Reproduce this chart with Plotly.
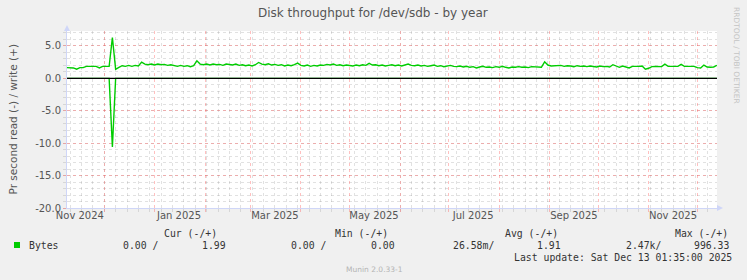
import pandas as pd
import plotly.graph_objects as go

# ---------------- data ----------------
start_date = "2024-11-08 01:35"
end_date = "2025-12-13 01:35"
dates = pd.date_range("2024-11-08", "2025-12-13", freq="2D")

write_vals = [
    1.65, 1.65, 1.6, 1.4, 1.65, 1.65, 1.85, 1.85, 1.85, 1.85,
    1.6, 1.85, 1.85, 1.85, 6.3, 1.4, 1.7, 1.95, 1.85, 2.0,
    1.85, 2.0, 1.9, 2.5, 2.2, 2.1, 2.2, 2.05, 2.2, 2.1,
    2.15, 2.0, 2.1, 1.95, 1.85, 2.0, 1.85, 1.95, 1.8, 1.95,
    2.7, 2.2, 2.1, 2.2, 2.05, 2.2, 2.1, 2.15, 2.0, 2.2,
    2.1, 2.05, 2.2, 2.0, 2.1, 1.95, 2.05, 1.9, 2.1, 2.45,
    2.2, 2.1, 2.25, 2.05, 2.15, 2.0, 2.1, 1.9, 2.05, 1.95,
    2.1, 2.35, 2.0, 1.9, 2.05, 1.85, 2.0, 1.9, 2.05, 2.0,
    2.15, 2.05, 2.2, 2.0, 2.1, 1.95, 2.05, 2.0, 1.9, 2.05,
    1.95, 2.1, 2.0, 2.3, 2.05, 2.1, 1.95, 2.05, 1.9, 2.0,
    2.1, 1.95, 2.05, 1.9, 2.0, 2.2, 2.0, 1.95, 2.05, 1.9,
    2.0, 1.85, 1.95, 2.05, 1.85, 1.95, 1.8, 1.9, 2.0, 1.85,
    1.8, 1.9, 1.75, 1.85, 1.7, 1.8, 1.6, 1.75, 1.85, 1.7,
    1.75, 1.65, 1.8, 1.7, 1.85, 1.7, 1.6, 1.75, 1.7, 1.8,
    1.7, 1.75, 1.65, 1.8, 1.75, 1.8, 1.7, 2.55, 2.05, 1.9,
    1.95, 1.9, 2.0, 1.85, 1.95, 1.9, 1.8, 1.95, 1.85, 1.9,
    1.8, 1.9, 1.85, 1.75, 1.9, 1.8, 1.85, 1.75, 2.1, 1.85,
    1.7, 1.9, 1.8, 1.6, 1.85, 1.8, 1.85, 1.9, 1.4, 1.55,
    1.8, 1.82, 1.82, 1.8, 2.18, 1.85, 1.85, 1.82, 1.85, 2.15,
    1.85, 1.85, 1.82, 1.85, 1.65, 1.6, 2.05, 1.75, 1.7, 1.75,
    2.0,
]

read_vals = [
    0, 0, 0, 0, 0, 0, 0, 0, 0, 0,
    0, 0, 0, 0, -10.6, 0, 0, 0, 0, 0,
    0, 0, 0, 0, 0, 0, 0, 0, 0, 0,
    0, 0, 0, 0, 0, 0, 0, 0, 0, 0,
    0, 0, 0, 0, 0, 0, 0, 0, 0, 0,
    0, 0, 0, 0, 0, 0, 0, 0, 0, 0,
    0, 0, 0, 0, 0, 0, 0, 0, 0, 0,
    0, 0, 0, 0, 0, 0, 0, 0, 0, 0,
    0, 0, 0, 0, 0, 0, 0, 0, 0, 0,
    0, 0, 0, 0, 0, 0, 0, 0, 0, 0,
    0, 0, 0, 0, 0, 0, 0, 0, 0, 0,
    0, 0, 0, 0, 0, 0, 0, 0, 0, 0,
    0, 0, 0, 0, 0, 0, 0, 0, 0, 0,
    0, 0, 0, 0, 0, 0, 0, 0, 0, 0,
    0, 0, 0, 0, 0, 0, 0, 0, 0, 0,
    0, 0, 0, 0, 0, 0, 0, 0, 0, 0,
    0, 0, 0, 0, 0, 0, 0, 0, 0, 0,
    0, 0, 0, 0, 0, 0, 0, 0, 0, 0,
    0, 0, 0, 0, 0, 0, 0, 0, 0, 0,
    0, 0, 0, 0, 0, 0, 0, 0, 0, 0,
    0,
]

x_label_dates = ["2024-11-16", "2025-01-16", "2025-03-16", "2025-05-16",
                 "2025-07-16", "2025-09-16", "2025-11-16"]
x_label_text = ["Nov 2024", "Jan 2025", "Mar 2025", "May 2025",
                "Jul 2025", "Sep 2025", "Nov 2025"]
y_tick_vals = [-20, -15, -10, -5, 0, 5]
y_tick_text = ["-20.0", "-15.0", "-10.0", "-5.0", "0.0", "5.0"]

title_text = "Disk throughput for /dev/sdb - by year"
ylabel_text = "Pr second read (-) / write (+)"
series_name = "Bytes"
legend_headers = ["Cur (-/+)", "Min (-/+)", "Avg (-/+)", "Max (-/+)"]
legend_values = ["0.00 /", "1.99", "0.00 /", "0.00", "26.58m/", "1.91", "2.47k/", "996.33"]
last_update = "Last update: Sat Dec 13 01:35:00 2025"
version_text = "Munin 2.0.33-1"
rrd_text = "RRDTOOL / TOBI OETIKER"

# ---------------- layout helpers ----------------
W_PX, H_PX = 747, 280
L, R, T, B = 67, 717, 31, 208
PW, PH = R - L, B - T


def px(x):
    return (x - L) / PW


def py(y):
    return (B - y) / PH


GREEN = "#00CC00"
FONT_C = "#555555"
AXIS_C = "#CFD6F8"
MGRID = "rgba(255,80,80,0.36)"
GRID = "rgba(140,140,140,0.26)"
MONO = "DejaVu Sans Mono"
SANS = "DejaVu Sans"

fig = go.Figure()
fig.add_trace(go.Scatter(x=dates, y=read_vals, mode="lines",
                         line=dict(color=GREEN, width=1.4), showlegend=False,
                         hoverinfo="skip"))
fig.add_trace(go.Scatter(x=dates, y=write_vals, mode="lines",
                         line=dict(color=GREEN, width=1.4), showlegend=False,
                         hoverinfo="skip"))

# zero rule
fig.add_shape(type="line", xref="paper", yref="y", x0=0, x1=1, y0=0, y1=0,
              line=dict(color="#000000", width=1.3), layer="above")

# axis arrows
fig.add_shape(type="path", xref="paper", yref="paper",
              path=f"M {px(64)} {py(31)} L {px(70)} {py(31)} L {px(67)} {py(25)} Z",
              fillcolor=AXIS_C, line=dict(width=0), layer="above")
fig.add_shape(type="path", xref="paper", yref="paper",
              path=f"M {px(717)} {py(205)} L {px(717)} {py(211)} L {px(723)} {py(208)} Z",
              fillcolor=AXIS_C, line=dict(width=0), layer="above")

# legend square
fig.add_shape(type="rect", xref="paper", yref="paper",
              x0=px(14), x1=px(20), y0=py(248), y1=py(242),
              fillcolor=GREEN, line=dict(width=0))

annotations = []


def txt(x, y, s, size=9.8, color="#333333", family=MONO, xanchor="left", angle=0):
    annotations.append(dict(x=px(x), y=py(y), xref="paper", yref="paper", text=s,
                            showarrow=False, xanchor=xanchor, yanchor="middle",
                            textangle=angle,
                            font=dict(family=family, size=size, color=color)))


header_x = [162, 333, 503, 673]
for hx, h in zip(header_x, legend_headers):
    txt(hx, 233, h)
txt(27, 245.5, series_name)
value_x = [120.5, 200, 288.5, 368.5, 450.5, 535, 624, 691.5]
for vx, v in zip(value_x, legend_values):
    txt(vx, 245.5, v)
txt(511.5, 257.5, last_update)
txt(374, 269.5, version_text, size=7.5, color="#b4b4b4", family=SANS, xanchor="center")
txt(737, 56, rrd_text, size=7.5, color="#c4c4c4", family=SANS, xanchor="center", angle=90)
txt(12, 119.5, ylabel_text, size=10.5, color=FONT_C, family=SANS, xanchor="center", angle=-90)
txt(373, 13, title_text, size=12, color=FONT_C, family=SANS, xanchor="center")

WEEK_MS = 7 * 86400000

fig.update_layout(
    width=W_PX, height=H_PX, autosize=False,
    margin=dict(l=L, r=W_PX - R, t=T, b=H_PX - B, pad=0),
    paper_bgcolor="#F0F0F0", plot_bgcolor="#FFFFFF",
    annotations=annotations,
    showlegend=False,
    # main axis: weekly minor grid
    xaxis=dict(
        type="date", range=[start_date, end_date],
        tickmode="linear", dtick=WEEK_MS, tick0="2024-12-01",
        showgrid=True, gridcolor=GRID, griddash="dot", gridwidth=1,
        showticklabels=False, ticks="outside", ticklen=3, tickcolor=GRID,
        showline=True, linecolor=AXIS_C, linewidth=1, zeroline=False,
    ),
    # labels centred in their month
    xaxis2=dict(
        type="date", range=[start_date, end_date], overlaying="x", anchor="y",
        side="bottom", tickmode="array", tickvals=x_label_dates,
        ticktext=x_label_text, showgrid=False, showline=False, zeroline=False,
        ticks="", tickfont=dict(family=SANS, size=10, color=FONT_C),
    ),
    # monthly major grid
    xaxis3=dict(
        type="date", range=[start_date, end_date], overlaying="x", anchor="y",
        side="bottom", tickmode="linear", dtick="M1", tick0="2024-12-01",
        showgrid=True, gridcolor=MGRID, griddash="dot", gridwidth=1,
        showticklabels=False, ticks="outside", ticklen=3, tickcolor=MGRID,
        showline=False, zeroline=False,
    ),
    yaxis=dict(
        range=[-20, 7.3], tickmode="array", tickvals=y_tick_vals,
        ticktext=y_tick_text, tickfont=dict(family=SANS, size=10, color=FONT_C),
        showgrid=True, gridcolor=MGRID, griddash="dot", gridwidth=1,
        ticks="outside", ticklen=3, tickcolor=MGRID,
        showline=True, linecolor=AXIS_C, linewidth=1, zeroline=False,
        minor=dict(dtick=1, tick0=0, showgrid=True, gridcolor=GRID,
                   griddash="dot", gridwidth=1, ticks="outside", ticklen=3,
                   tickcolor=GRID),
    ),
)

# invisible helper traces so the overlay axes are drawn
fig.add_trace(go.Scatter(x=[dates[0]], y=[None], xaxis="x2", yaxis="y",
                         showlegend=False, hoverinfo="skip"))
fig.add_trace(go.Scatter(x=[dates[0]], y=[None], xaxis="x3", yaxis="y",
                         showlegend=False, hoverinfo="skip"))

fig.write_html("out.html", config={"displayModeBar": False})
